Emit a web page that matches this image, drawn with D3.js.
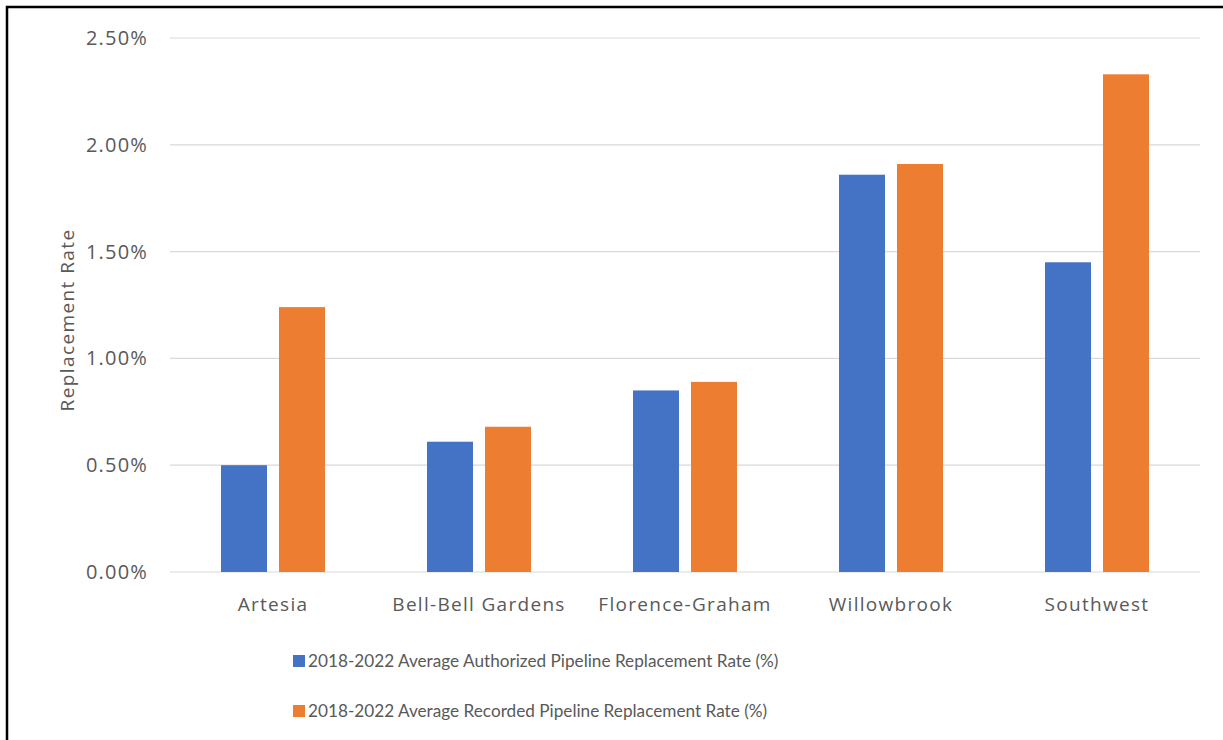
<!DOCTYPE html>
<html>
<head>
<meta charset="utf-8">
<script src="https://cdn.jsdelivr.net/npm/d3@7"></script>
<style>
  html, body { margin: 0; padding: 0; background: #fff; }
  svg { display: block; }
  text { font-family: "Open Sans", sans-serif; fill: #595959; }
</style>
</head>
<body>
<svg id="chart" width="1223" height="740"></svg>
<script>
// Pipeline replacement rates by district, 2018-2022 averages (percent)
const categories = ["Artesia", "Bell-Bell Gardens", "Florence-Graham", "Willowbrook", "Southwest"];
const authorized = [0.50, 0.61, 0.85, 1.86, 1.45];
const recorded = [1.24, 0.68, 0.89, 1.91, 2.33];
const seriesNames = [
  "2018-2022 Average Authorized Pipeline Replacement Rate (%)",
  "2018-2022 Average Recorded Pipeline Replacement Rate (%)"
];
const seriesColors = ["#4472c4", "#ed7d31"];
const yTicks = [0, 0.5, 1.0, 1.5, 2.0, 2.5];

const svg = d3.select("#chart");
const margin = { left: 170, right: 23, top: 38, bottom: 168 };
const width = 1223, height = 740;
const plotW = width - margin.left - margin.right;
const plotH = height - margin.top - margin.bottom;

// Frame around the chart (top and left edges visible)
svg.append("rect")
  .attr("x", 7).attr("y", 7)
  .attr("width", 1240).attr("height", 760)
  .attr("fill", "none").attr("stroke", "#000").attr("stroke-width", 2.5);

const g = svg.append("g").attr("transform", `translate(${margin.left},${margin.top})`);

const y = d3.scaleLinear().domain([0, 2.5]).range([plotH, 0]);
const x0 = d3.scaleBand().domain(categories).range([0, plotW]).paddingInner(0).paddingOuter(0);

// Gridlines
g.append("g")
  .selectAll("line")
  .data(yTicks)
  .join("line")
  .attr("x1", 0).attr("x2", plotW)
  .attr("y1", d => y(d)).attr("y2", d => y(d))
  .attr("stroke", "#d9d9d9").attr("stroke-width", 1.2);

// Y axis labels
const yAxis = d3.axisLeft(y).tickValues(yTicks).tickFormat(d => d.toFixed(2) + "%").tickSize(0).tickPadding(22);
const yg = g.append("g").call(yAxis);
yg.select(".domain").remove();
yg.selectAll("text")
  .style("font-size", "20px").style("letter-spacing", "1.2px")
  .style("fill", "#595959").style("font-family", "'Open Sans', sans-serif");

// X axis labels
const xAxis = d3.axisBottom(x0).tickSize(0).tickPadding(26);
const xg = g.append("g").attr("transform", `translate(0,${plotH})`).call(xAxis);
xg.select(".domain").remove();
xg.selectAll("text")
  .style("font-size", "19px").style("letter-spacing", "1.3px")
  .style("fill", "#595959").style("font-family", "'Open Sans', sans-serif");

// Bars
const barW = 46, barGap = 12;
const series = [authorized, recorded];
const groups = g.append("g")
  .selectAll("g")
  .data(categories)
  .join("g")
  .attr("transform", d => `translate(${x0(d) + x0.bandwidth() / 2 - (barW * 2 + barGap) / 2},0)`);

groups.selectAll("rect")
  .data((d, i) => series.map((s, k) => ({ k, v: s[i] })))
  .join("rect")
  .attr("x", d => d.k * (barW + barGap))
  .attr("width", barW)
  .attr("y", d => y(d.v))
  .attr("height", d => plotH - y(d.v))
  .attr("fill", d => seriesColors[d.k]);

// Y axis title
svg.append("text")
  .attr("transform", "translate(74,320) rotate(-90)")
  .attr("text-anchor", "middle")
  .style("font-size", "19px")
  .style("letter-spacing", "1.4px")
  .text("Replacement Rate");

// Legend
const legend = svg.append("g").attr("transform", "translate(293,655)");
seriesNames.forEach((name, i) => {
  const row = legend.append("g").attr("transform", `translate(0,${i * 50})`);
  row.append("rect").attr("width", 12).attr("height", 12).attr("fill", seriesColors[i]);
  row.append("text").attr("x", 15).attr("y", 6).attr("dy", "0.36em")
    .style("font-family", "Lato, sans-serif")
    .style("font-size", "17.2px").text(name);
});
</script>
</body>
</html>
